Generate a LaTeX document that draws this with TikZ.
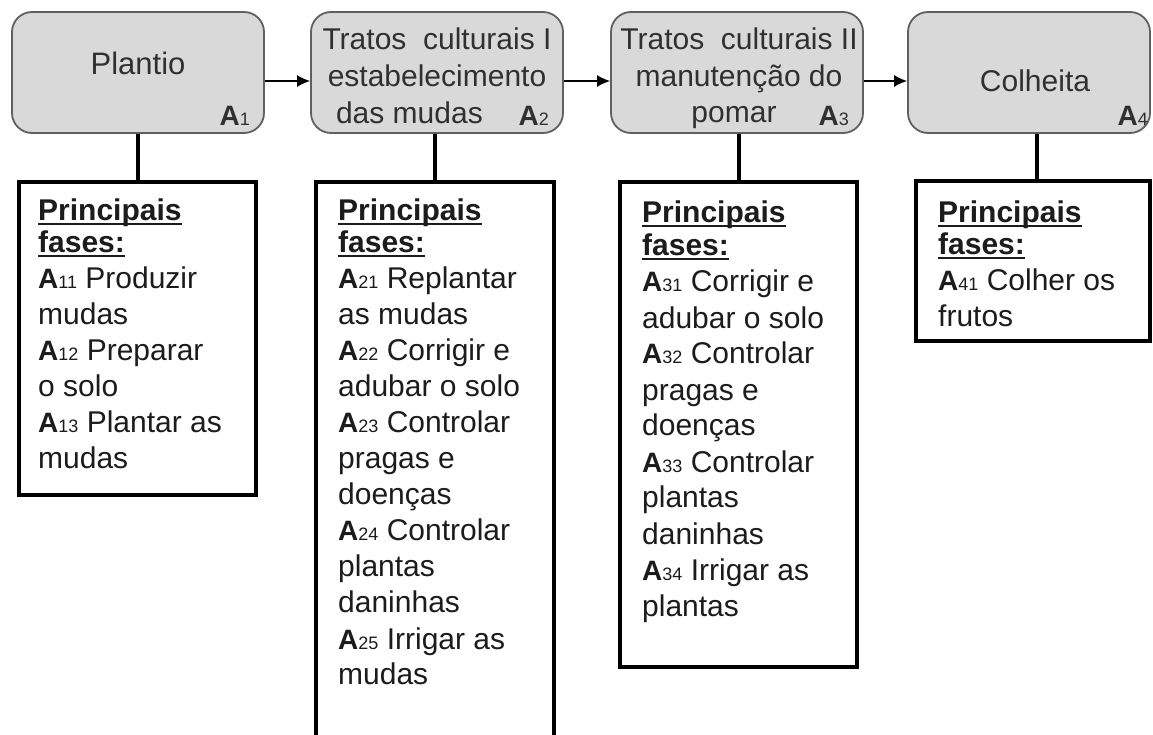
\documentclass[tikz,border=0pt]{standalone}
\usepackage{fontspec}
\setmainfont{Liberation Sans}
\usetikzlibrary{arrows.meta}
\definecolor{boxgray}{HTML}{D9D9D9}
\definecolor{edgegray}{HTML}{606060}
\definecolor{toptext}{HTML}{303030}
\definecolor{lowtext}{HTML}{1C1C1C}
\newcommand\myul[1]{\setbox0\hbox{#1}\rlap{\rule[-4.5pt]{\wd0}{2.6pt}}\box0}
\newcommand\Asb[1]{{\fontsize{28}{28}\selectfont\bfseries A}{\fontsize{18}{18}\selectfont #1}}
\newcommand\Atop[1]{{\fontsize{28}{28}\selectfont\bfseries A}{\fontsize{18}{18}\selectfont #1}}
\begin{document}
\begin{tikzpicture}[x=1pt,y=-1pt,
  topbox/.style={draw=edgegray, line width=1.8pt, fill=boxgray, rounded corners=20pt, inner sep=0pt, minimum height=121pt},
  lowbox/.style={draw=black, line width=4pt, fill=white, inner sep=0pt},
  conn/.style={draw=black, line width=4pt},
  arr/.style={draw=black, line width=1.5pt, -{Latex[length=13pt,width=12pt]}},
  toptxt/.style={font=\fontsize{30}{36}\selectfont, text=toptext, inner sep=0pt, anchor=base},
  lab/.style={text=toptext, inner sep=0pt, anchor=base east},
  lowtxt/.style={font=\fontsize{30}{36}\selectfont, text=lowtext, inner sep=0pt, anchor=base west}
]
\useasboundingbox (0,0) rectangle (1153,735);
\fill[white] (0,0) rectangle (1153,735);

% top boxes
\node[topbox, minimum width=252pt] (B1) at (138,72.5) {};
\node[topbox, minimum width=252pt] (B2) at (437,72.5) {};
\node[topbox, minimum width=252pt] (B3) at (737,72.5) {};
\node[topbox, minimum width=242pt] (B4) at (1029,72.5) {};

% top texts
\node[toptxt, font=\fontsize{31}{36}\selectfont] (t1) at (138,75) {Plantio};
\node[lab] (a1) at (250,126) {\Atop{1}};

\node[toptxt] (t2a) at (437,50) {Tratos\ \ culturais I};
\node[toptxt] (t2b) at (437,87) {estabelecimento};
\node[toptxt, anchor=base east] (t2c) at (483,124) {das mudas};
\node[lab] (a2) at (549,126) {\Atop{2}};

\node[toptxt] (t3a) at (739,50) {Tratos\ \ culturais II};
\node[toptxt] (t3b) at (739,87) {manutenção do};
\node[toptxt] (t3c) at (734,123) {pomar};
\node[lab] (a3) at (849,126) {\Atop{3}};

\node[toptxt] (t4) at (1035,92) {Colheita};
\node[lab] (a4) at (1148,126) {\Atop{4}};

% arrows
\coordinate (ay) at (0,81);
\draw[arr] (B1.east |- ay) -- (B2.west |- ay);
\draw[arr] (B2.east |- ay) -- (B3.west |- ay);
\draw[arr] (B3.east |- ay) -- (B4.west |- ay);

% lower boxes
\node[lowbox, minimum width=237pt, minimum height=313pt] (L1) at (137.5,338.5) {};
\begin{scope}
\clip (0,0) rectangle (1153,735);
\node[lowbox, minimum width=238pt, minimum height=578pt] (L2) at (435,471) {};
\end{scope}
\node[lowbox, minimum width=237pt, minimum height=485pt] (L3) at (738.5,424.5) {};
\node[lowbox, minimum width=234pt, minimum height=160pt] (L4) at (1033,261) {};

% connectors
\draw[conn] (L1.north) -- (L1.north |- B1.south);
\draw[conn] (L2.north) -- (L2.north |- B2.south);
\coordinate (c3) at (739,0);
\draw[conn] (c3 |- L3.north) -- (c3 |- B3.south);
\coordinate (c4) at (1037,0);
\draw[conn] (c4 |- L4.north) -- (c4 |- B4.south);

% lower texts
\node[lowtxt] (x1) at (38,221) {\begin{tabular}[t]{@{}l@{}}
\bfseries\myul{Principais}\\ \noalign{\vskip-4pt}
\bfseries\myul{fases:}\\
\Asb{11} Produzir\\
mudas\\
\Asb{12} Preparar\\
o solo\\
\Asb{13} Plantar as\\
mudas
\end{tabular}};

\node[lowtxt] (x2) at (338,221) {\begin{tabular}[t]{@{}l@{}}
\bfseries\myul{Principais}\\ \noalign{\vskip-4pt}
\bfseries\myul{fases:}\\
\Asb{21} Replantar\\
as mudas\\
\Asb{22} Corrigir e\\
adubar o solo\\
\Asb{23} Controlar\\
pragas e\\
doenças\\
\Asb{24} Controlar\\
plantas\\
daninhas\\
\Asb{25} Irrigar as\\
mudas
\end{tabular}};

\node[lowtxt] (x3) at (642,223) {\begin{tabular}[t]{@{}l@{}}
\bfseries\myul{Principais}\\ \noalign{\vskip-3pt}
\bfseries\myul{fases:}\\
\Asb{31} Corrigir e\\
adubar o solo\\
\Asb{32} Controlar\\
pragas e\\
doenças\\
\Asb{33} Controlar\\
plantas\\
daninhas\\
\Asb{34} Irrigar as\\
plantas
\end{tabular}};

\node[lowtxt] (x4) at (938,223) {\begin{tabular}[t]{@{}l@{}}
\bfseries\myul{Principais}\\ \noalign{\vskip-4pt}
\bfseries\myul{fases:}\\
\Asb{41} Colher os\\
frutos
\end{tabular}};
\end{tikzpicture}
\end{document}
